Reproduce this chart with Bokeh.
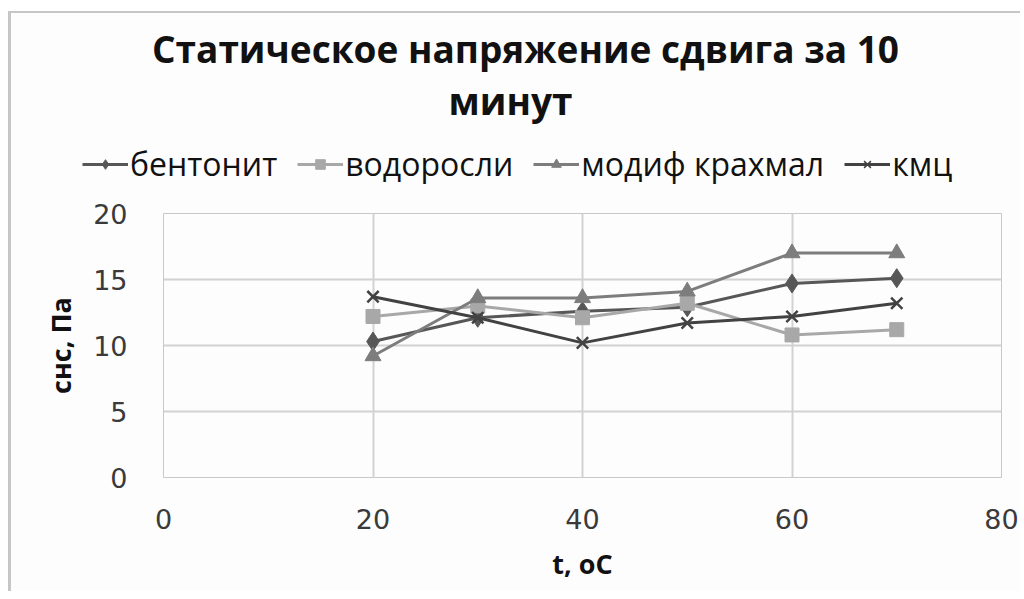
from bokeh.plotting import figure
from bokeh.layouts import column
from bokeh.models import Legend, LegendItem, Range1d, FixedTicker, Label
from bokeh.embed import file_html
from bokeh.resources import INLINE

t = [20, 30, 40, 50, 60, 70]
bentonit = [10.3, 12.1, 12.6, 12.9, 14.7, 15.1]
vodorosli = [12.2, 13.0, 12.1, 13.2, 10.8, 11.2]
modif_krahmal = [9.2, 13.6, 13.6, 14.1, 17.0, 17.0]
kmc = [13.7, 12.1, 10.2, 11.7, 12.2, 13.2]
series_names = ["бентонит", "водоросли", "модиф крахмал", "кмц"]
title_lines = ["Статическое напряжение сдвига за 10", "минут"]
x_ticks = [0, 20, 40, 60, 80]
y_ticks = [0, 5, 10, 15, 20]

OX, OY = 11, 13          # content origin inside the outer chart-area border
W = 1020 - OX
TOP_BOTTOM = 192         # page y where the header ends
TOP_H = TOP_BOTTOM - OY
BOT_H = 591 - TOP_BOTTOM
BG = "#fdfdfd"
TXT = "Open Sans"
TICK_FONT = "DejaVu Sans"
colors = ["#575757", "#a8a8a8", "#7d7d7d", "#424242"]
markers = ["diamond", "square", "triangle", "x"]
msizes = [19, 14, 16, 16]
series = [bentonit, vodorosli, modif_krahmal, kmc]

# ---- header: title and legend ----
top = figure(width=W, height=TOP_H, output_backend="svg", toolbar_location=None,
             x_range=Range1d(OX, OX + W), y_range=Range1d(TOP_BOTTOM, OY),
             min_border=0, x_axis_type=None, y_axis_type=None)
top.frame_align = False
top.extra_x_ranges = {"off": Range1d(1000, 1001)}
top.grid.visible = False
top.outline_line_color = None
top.background_fill_color = BG
top.border_fill_color = BG

top.add_layout(Label(x=525, y=48, text=title_lines[0], text_align="center", text_baseline="middle",
                     text_font=TXT, text_font_size="37px", text_font_style="bold", text_color="#111111"))
top.add_layout(Label(x=510, y=100, text=title_lines[1], text_align="center", text_baseline="middle",
                     text_font=TXT, text_font_size="37px", text_font_style="bold", text_color="#111111"))

items = []
for name, ys, c, mk, ms in zip(series_names, series, colors, markers, msizes):
    rl = top.line(t, ys, line_color=c, line_width=3, x_range_name="off")
    if mk == "x":
        rm = top.scatter(t, ys, marker=mk, size=ms, line_color=c, line_width=1.5, x_range_name="off")
    else:
        rm = top.scatter(t, ys, marker=mk, size=ms, fill_color=c, line_color=c, x_range_name="off")
    items.append(LegendItem(label=name, renderers=[rl, rm]))

legend = Legend(items=items, orientation="horizontal", location=(82 - OX, TOP_BOTTOM - 185),
                label_text_font=TXT, label_text_font_size="32px", label_text_color="#111111",
                glyph_width=46, glyph_height=24, spacing=20, label_standoff=2,
                background_fill_alpha=0, border_line_color=None, margin=0, padding=0)
top.add_layout(legend, "center")

# ---- chart ----
p = figure(width=W, height=BOT_H, output_backend="svg", toolbar_location=None,
           x_range=Range1d(0, 80), y_range=Range1d(0, 20),
           min_border_left=163 - OX, min_border_right=19, min_border_top=213 - TOP_BOTTOM,
           min_border_bottom=114)
p.background_fill_color = BG
p.border_fill_color = BG
p.outline_line_color = "#c8c8c8"
p.outline_line_width = 1

p.xaxis.ticker = FixedTicker(ticks=x_ticks)
p.yaxis.ticker = FixedTicker(ticks=y_ticks)
for ax in (p.xaxis[0], p.yaxis[0]):
    ax.axis_line_color = None
    ax.major_tick_line_color = None
    ax.minor_tick_line_color = None
    ax.major_tick_out = 0
    ax.major_tick_in = 0
    ax.major_label_text_font = TICK_FONT
    ax.major_label_text_font_size = "27px"
    ax.major_label_text_color = "#3a3a3a"
    ax.axis_label_text_font = TXT
    ax.axis_label_text_font_size = "27px"
    ax.axis_label_text_font_style = "bold"
    ax.axis_label_text_color = "#111111"
p.xaxis.axis_label = "t, оС"
p.yaxis.axis_label = "снс, Па"
p.xaxis.major_label_standoff = 31
p.yaxis.major_label_standoff = 36
p.xaxis.axis_label_standoff = 13
p.yaxis.axis_label_standoff = 11

p.xgrid.grid_line_color = "#d2d2d2"
p.ygrid.grid_line_color = "#d2d2d2"
p.xgrid.grid_line_width = 2
p.ygrid.grid_line_width = 2

for ys, c, mk, ms in zip(series, colors, markers, msizes):
    p.line(t, ys, line_color=c, line_width=3)
    if mk == "x":
        p.scatter(t, ys, marker=mk, size=ms, line_color=c, line_width=2.5)
    else:
        p.scatter(t, ys, marker=mk, size=ms, fill_color=c, line_color=c)

layout = column(top, p, spacing=0,
                styles={"margin-left": "8px", "margin-top": "11px",
                        "border-left": "3px solid #c6c6c6", "border-top": "2px solid #c6c6c6",
                        "background-color": BG})
open("out.html", "w").write(file_html(layout, INLINE))
